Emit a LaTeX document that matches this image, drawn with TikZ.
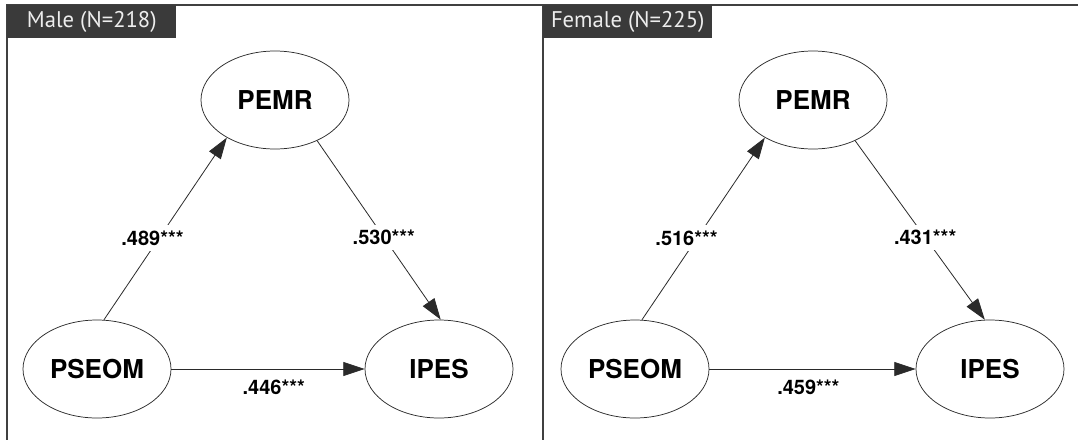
\documentclass[tikz,border=0pt]{standalone}
\usepackage{fontspec}
\setmainfont{TeX Gyre Heros}
\newfontfamily\titlefont{PT Sans}
\usetikzlibrary{shapes.geometric,arrows.meta}
\definecolor{tagfill}{HTML}{3A3A3A}
\definecolor{rulegray}{HTML}{404040}
\definecolor{inkgray}{HTML}{2A2A2A}

\begin{document}
\begin{tikzpicture}[x=0.75pt,y=-0.75pt,
  latent/.style={ellipse, draw=inkgray, line width=0.55pt,
    minimum width=111pt, minimum height=73.5pt, inner sep=0pt,
    font=\fontsize{19.5}{19.5}\selectfont\bfseries},
  regpath/.style={draw=inkgray, line width=0.6pt,
    -{Triangle[length=16pt,width=10.5pt]}},
  coef/.style={font=\fontsize{15}{15}\selectfont\bfseries,
    fill=white, inner sep=4pt},
  coefbelow/.style={font=\fontsize{15}{15}\selectfont\bfseries,
    inner sep=0pt, below=8pt},
  grouptag/.style={fill=tagfill, text=black!7, anchor=north west,
    inner sep=0pt, minimum width=126.75pt, minimum height=24.75pt,
    font=\titlefont\fontsize{17}{17}\selectfont},
]
\useasboundingbox (0,0) rectangle (1078,440);
\fill[white] (0,0) rectangle (1078,440);

% panel frame
\draw[rulegray, line width=1pt] (1078,5) -- (7,5) -- (7,440);
\draw[rulegray, line width=1pt] (543,5) -- (543,440);

% group tags
\node[grouptag] (mtag) at (7,5) {Male (N=218)};
\node[grouptag] (ftag) at (543,5) {Female (N=225)};

% male model
\node[latent] (mPEMR)  at (275,100) {PEMR};
\node[latent] (mPSEOM) at (97,369)  {PSEOM};
\node[latent] (mIPES)  at (439,369) {IPES};

\draw[regpath] (mPSEOM.82) -- node[coef, pos=0.45, xshift=-5pt] {.489***} (mPEMR.218);
\draw[regpath] (mPEMR.-44) -- node[coef, pos=0.54] {.530***} (mIPES.88);
\draw[regpath] (mPSEOM.east) -- node[coefbelow, pos=0.53] {.446***} (mIPES.west);

% female model
\node[latent] (fPEMR)  at (813,100) {PEMR};
\node[latent] (fPSEOM) at (635,369) {PSEOM};
\node[latent] (fIPES)  at (990,369) {IPES};

\draw[regpath] (fPSEOM.82) -- node[coef, pos=0.45, xshift=-8pt] {.516***} (fPEMR.218);
\draw[regpath] (fPEMR.-44) -- node[coef, pos=0.54] {.431***} (fIPES.96);
\draw[regpath] (fPSEOM.east) -- node[coefbelow, pos=0.48] {.459***} (fIPES.west);
\end{tikzpicture}
\end{document}
